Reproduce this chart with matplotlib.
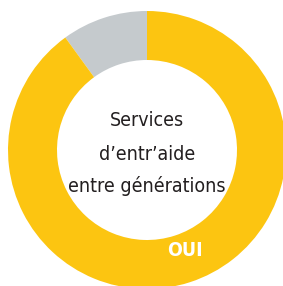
import matplotlib
matplotlib.use("Agg")
import matplotlib.pyplot as plt

categories = ["NON", "OUI"]
values = [10, 90]
colors = ["#C5CACD", "#FCC511"]
center_title = "Services\nd\u2019entr\u2019aide\nentre générations"

W, H = 283, 286
fig = plt.figure(figsize=(W / 100, H / 100), dpi=100)
ax = fig.add_axes([0, 0, 1, 1])
cx, cy, R, width = 147, H - 150, 139, 49
ax.pie(values, colors=colors, startangle=90, counterclock=True,
       center=(cx, cy), radius=R,
       wedgeprops=dict(width=width, edgecolor="none", linewidth=0))
ax.set_xlim(0, W)
ax.set_ylim(0, H)
ax.set_aspect("equal")
ax.axis("off")

fam = ["DejaVu Sans"]
lines = center_title.split("\n")
ys = [H - 121, H - 154, H - 186]
for t, y in zip(lines, ys):
    ax.text(cx, y, t, ha="center", va="center", fontsize=14,
            family=fam, fontstretch="condensed", color="#231F20")
ax.text(185, H - 250, categories[1], ha="center", va="center", fontsize=14,
        family=fam, fontstretch="condensed", fontweight="bold", color="white")

fig.savefig("out.png", dpi=100)
